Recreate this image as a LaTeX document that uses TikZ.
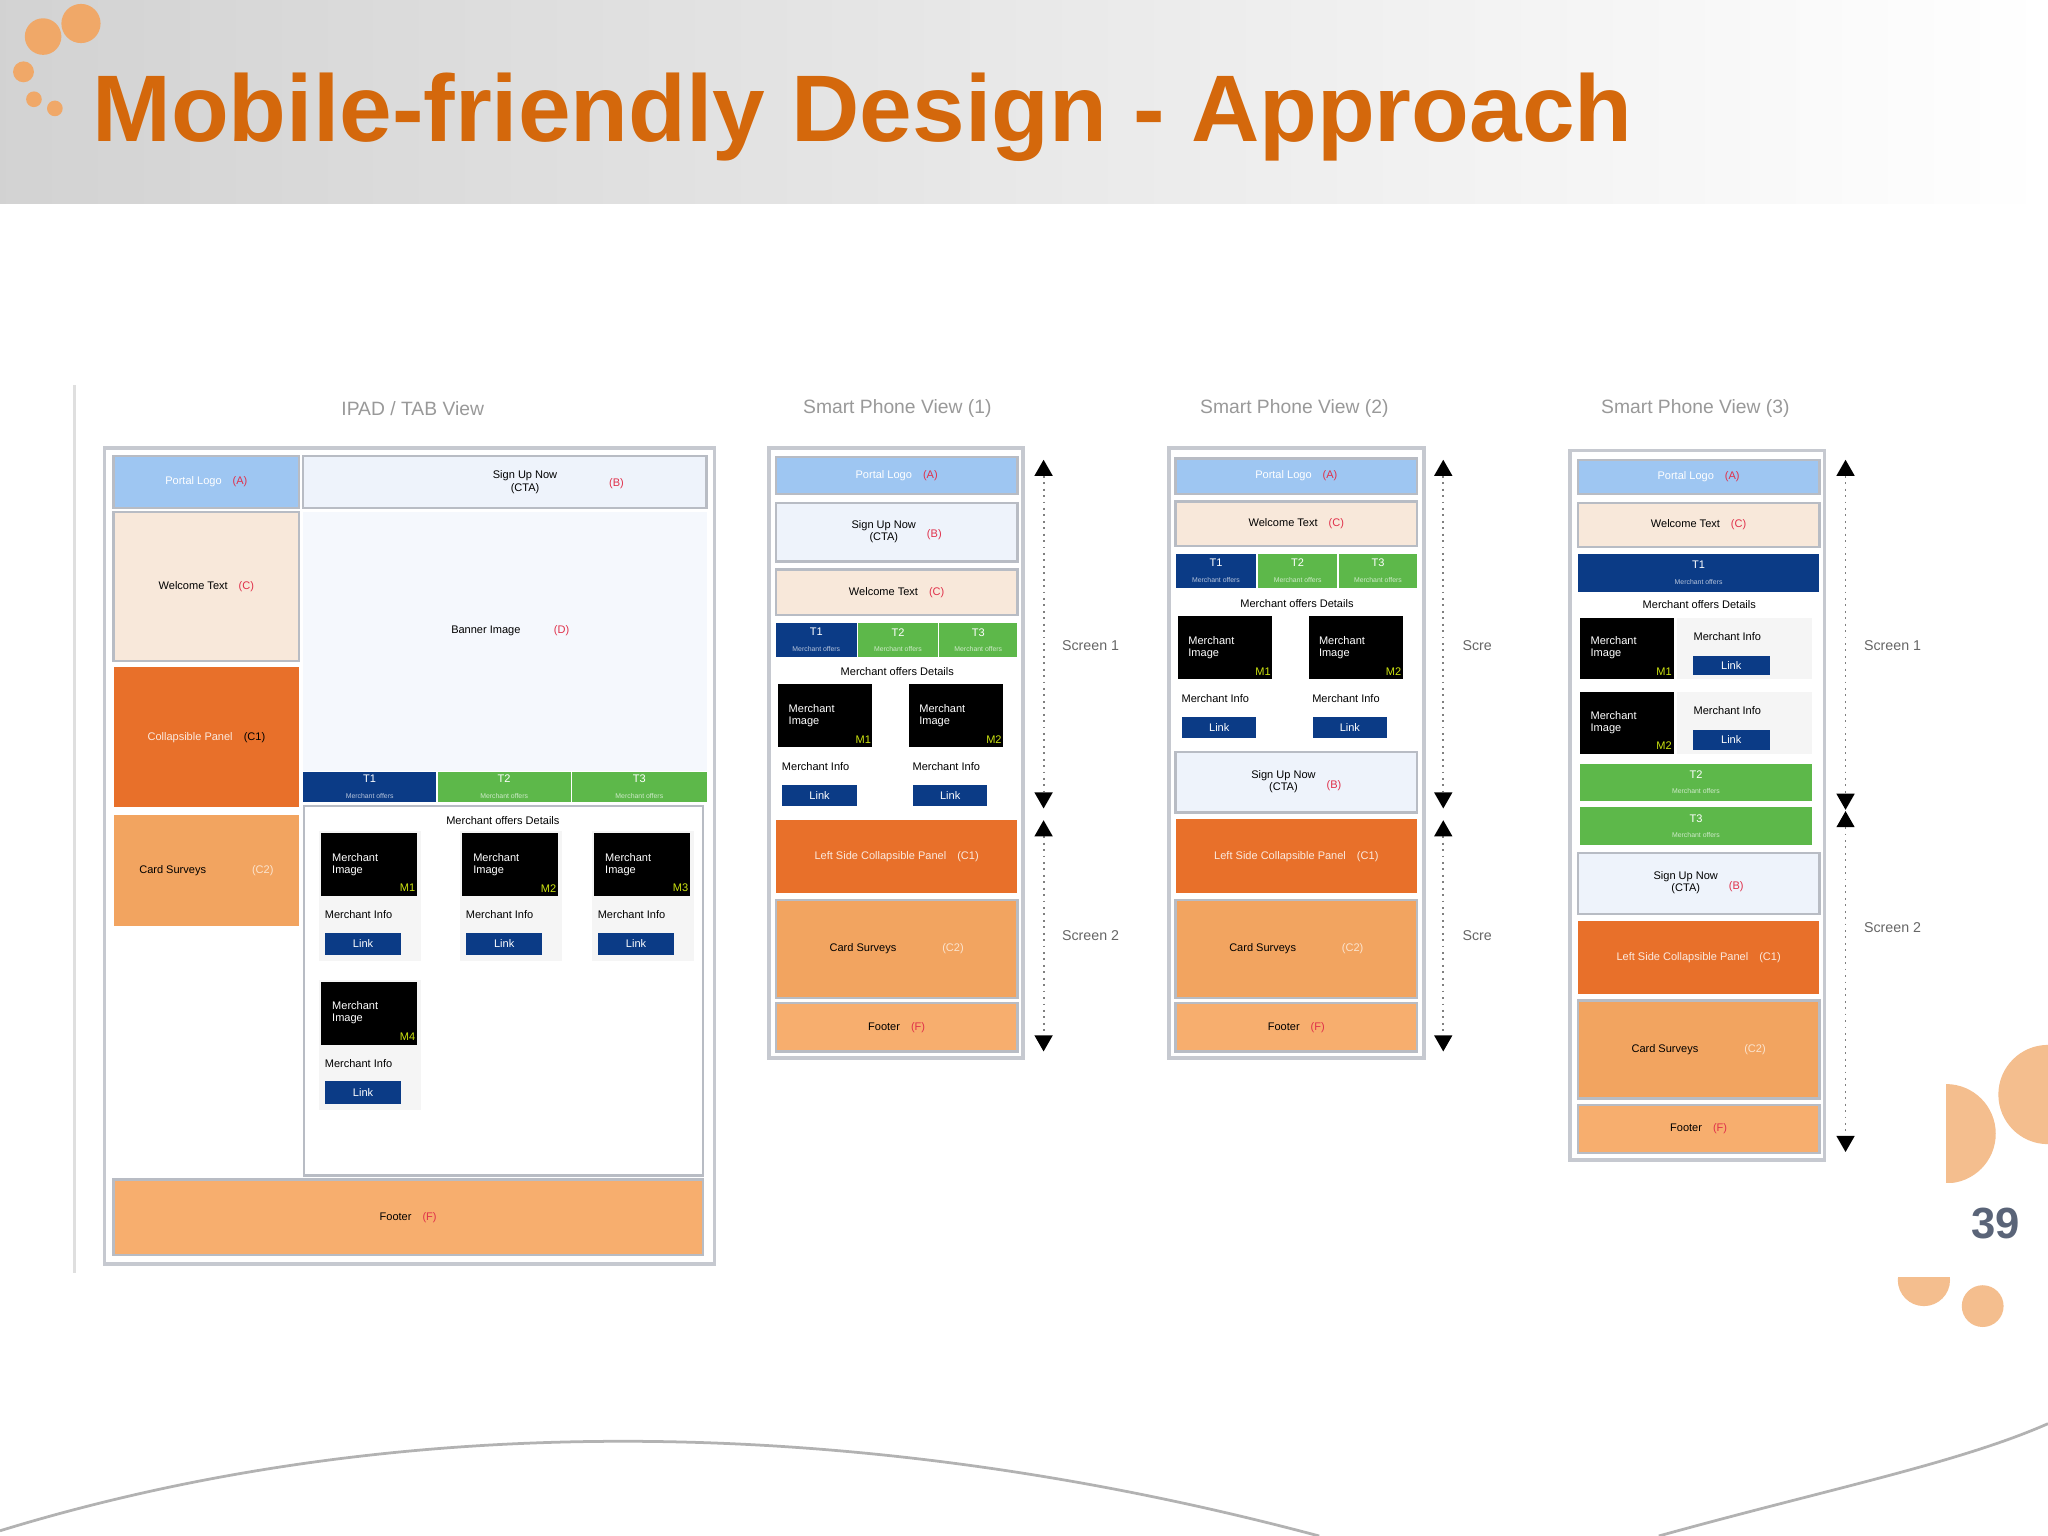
\documentclass[tikz,border=0pt]{standalone}
\usepackage{fontspec}
\setmainfont{Liberation Sans}
\usetikzlibrary{arrows.meta}
\definecolor{ttl}{HTML}{D4680C}
\definecolor{lb}{HTML}{9EC6F2}
\definecolor{su}{HTML}{EEF3FB}
\definecolor{wt}{HTML}{F8E8DA}
\definecolor{cp}{HTML}{E8702A}
\definecolor{cs}{HTML}{F2A460}
\definecolor{ft}{HTML}{F7AE6E}
\definecolor{nv}{HTML}{0B3B86}
\definecolor{gr}{HTML}{5DB84A}
\definecolor{cr}{HTML}{E0304A}
\definecolor{dots}{HTML}{F0A868}
\definecolor{pg}{HTML}{5A6478}
\definecolor{bdr}{HTML}{B8BCC4}
\newcommand\bx[7]{\path[#6] (#2,#3) rectangle (#4,#5); \node[txt] (#1) at ({(#2+#4)/2},{(#3+#5)/2}) {#7};}
\newcommand\code[1]{\quad{\color{cr}#1}}
\newcommand\tb[2]{\color{white}#1\\[0.5pt]\fontsize{1.5}{1.8}\selectfont\color{white!70!#2}Merchant offers}
\newcommand\sgn{\begin{tabular}{@{}c@{}}Sign Up Now\\(CTA)\end{tabular}\quad{\color{cr}(B)}}
\newcommand\mim{\color{white}\begin{tabular}{@{}l@{}}Merchant\\Image\end{tabular}\hspace{6pt}\null}
\begin{document}
\begin{tikzpicture}[x=0.01cm,y=-0.01cm,
  txt/.style={font=\fontsize{2.4}{2.9}\selectfont,align=center,inner sep=0pt},
  bxs/.style={draw=bdr,line width=0.5pt},
  frame/.style={draw=bdr!80,line width=0.8pt,fill=white},
  head/.style={font=\fontsize{4.2}{5}\selectfont,text=gray!80},
  scr/.style={font=\fontsize{3.1}{4}\selectfont,text=gray!80!black},
  arr/.style={densely dotted,gray,line width=0.4pt,{Triangle[width=4pt,length=3.5pt,fill=black,line width=0pt]}-{Triangle[width=4pt,length=3.5pt,fill=black,line width=0pt]}}]
\def\arraystretch{0.9}
\useasboundingbox (0,0) rectangle (1568,1176);
\fill[white] (0,0) rectangle (1568,1176);
\shade[left color=gray!35,right color=white] (0,0) rectangle (1568,156);
\foreach \x/\y/\r in {33/28/14,62/18/15,18/55/8,26/76/6,42/83/6}{\fill[dots] (\x,\y) circle (\r);}
\node[anchor=base west,font=\bfseries\fontsize{20.6}{24}\selectfont,text=ttl,inner sep=0pt] (title) at (70,108) {Mobile-friendly Design - Approach};
\begin{scope}
\clip (1490,780) rectangle (1568,905);
\fill[dots!75] (1490,868) circle (38);
\fill[dots!75] (1568,838) circle (38);
\end{scope}
\begin{scope}
\clip (1440,978) rectangle (1568,1030);
\fill[dots!75] (1473,980) circle (20);
\end{scope}
\fill[dots!75] (1518,1000) circle (16);
\node[font=\bfseries\fontsize{9.5}{11}\selectfont,text=pg] (pgn) at (1528,937) {39};
\draw[gray!60,line width=0.6pt] (0,1172) .. controls (300,1080) and (650,1080) .. (1010,1176);
\draw[gray!60,line width=0.6pt] (1270,1176) .. controls (1400,1140) and (1500,1120) .. (1568,1090);
\draw[gray!25,line width=0.5pt] (57,295) -- (57,975);
% ===== iPad =====
\node[head] (h1) at (316,313) {IPAD / TAB View};
\path[frame] (80,343) rectangle (547,968);
\bx{a1}{87}{349}{229}{389}{bxs,fill=lb}{{\color{white}Portal Logo}\code{(A)}}
\bx{b1}{232}{349}{541}{389}{bxs,fill=su}{}
\node[txt] (b1t) at (402,369) {Sign Up Now\\(CTA)};
\node[txt,text=cr] (b1c) at (472,370) {(B)};
\bx{c1}{87}{392}{229}{506}{bxs,fill=wt}{Welcome Text\code{(C)}}
\bx{d1}{232}{392}{541}{590}{fill=su!60}{}
\node[txt] (d1t) at (372,483) {Banner Image};
\node[txt,text=cr] (d1c) at (430,483) {(D)};
\bx{e1}{87}{511}{229}{618}{fill=cp}{{\color{white!85!cp}Collapsible Panel}\quad(C1)}
\bx{f1}{87}{624}{229}{709}{fill=cs}{Card Surveys\hspace{10pt}{\color{white!70!cs}(C2)}}
\bx{t11}{232}{591}{334}{614}{fill=nv}{\tb{T1}{nv}}
\bx{t12}{335}{591}{437}{614}{fill=gr}{\tb{T2}{gr}}
\bx{t13}{438}{591}{541}{614}{fill=gr}{\tb{T3}{gr}}
\bx{p1}{233}{617}{538}{900}{bxs,fill=white}{}
\node[txt] (md1) at (385,628) {Merchant offers Details};
\foreach \i/\x/\y/\m in {1/246/638/M1,2/354/638/M2,3/455/638/M3,4/246/752/M4}{
  \fill[gray!8] (\x-2,\y-2) rectangle (\x+76,\y+98);
  \bx{mi\i}{\x}{\y}{\x+73}{\y+48}{fill=black}{\mim}
  \node[txt,text=yellow!80!green] (mm\i) at (\x+66,\y+42) {\m};
  \node[txt,anchor=west] (mf\i) at (\x+2,\y+62) {Merchant Info};
  \bx{ml\i}{\x+3}{\y+76}{\x+61}{\y+93}{fill=nv}{\color{white}Link}
}
\bx{g1}{87}{903}{538}{961}{bxs,fill=ft}{Footer\code{(F)}}
% ===== Phone 1 =====
\node[head] (h2) at (687,313) {Smart Phone View (1)};
\path[frame] (589,343) rectangle (783,810);
\bx{a2}{594}{350}{779}{378}{bxs,fill=lb}{{\color{white}Portal Logo}\code{(A)}}
\bx{b2}{594}{385}{779}{430}{bxs,fill=su}{\sgn}
\bx{c2}{594}{436}{779}{471}{bxs,fill=wt}{Welcome Text\code{(C)}}
\bx{t21}{594}{477}{656}{503}{fill=nv}{\tb{T1}{nv}}
\bx{t22}{657}{477}{718}{503}{fill=gr}{\tb{T2}{gr}}
\bx{t23}{719}{477}{779}{503}{fill=gr}{\tb{T3}{gr}}
\node[txt] (md2) at (687,514) {Merchant offers Details};
\foreach \i/\x/\m in {1/596/M1,2/696/M2}{
  \bx{pi\i}{\x}{524}{\x+72}{572}{fill=black}{\mim}
  \node[txt,text=yellow!80!green] (pm\i) at (\x+65,566) {\m};
  \node[txt,anchor=west] (pf\i) at (\x+2,587) {Merchant Info};
  \bx{pl\i}{\x+3}{601}{\x+60}{617}{fill=nv}{\color{white}Link}
}
\bx{e2}{594}{628}{779}{684}{fill=cp}{{\color{white!85!cp}Left Side Collapsible Panel}\quad{\color{white!85!cp}(C1)}}
\bx{f2}{594}{689}{779}{764}{bxs,fill=cs}{Card Surveys\hspace{10pt}{\color{white!70!cs}(C2)}}
\bx{g2}{594}{768}{779}{805}{bxs,fill=ft}{Footer\code{(F)}}
\coordinate (u21) at (799,352); \coordinate (d21) at (799,619);
\coordinate (u22) at (799,628); \coordinate (d22) at (799,805);
\draw[arr] (u21) -- (d21); \draw[arr] (u22) -- (d22);
\node[scr] (s21) at (835,494) {Screen 1};
\node[scr] (s22) at (835,716) {Screen 2};
% ===== Phone 2 =====
\node[head] (h3) at (991,313) {Smart Phone View (2)};
\path[frame] (895,343) rectangle (1090,810);
\bx{a3}{900}{351}{1085}{378}{bxs,fill=lb}{{\color{white}Portal Logo}\code{(A)}}
\bx{c3}{900}{384}{1085}{418}{bxs,fill=wt}{Welcome Text\code{(C)}}
\bx{t31}{900}{424}{962}{450}{fill=nv}{\tb{T1}{nv}}
\bx{t32}{963}{424}{1024}{450}{fill=gr}{\tb{T2}{gr}}
\bx{t33}{1025}{424}{1085}{450}{fill=gr}{\tb{T3}{gr}}
\node[txt] (md3) at (993,462) {Merchant offers Details};
\foreach \i/\x/\m in {1/902/M1,2/1002/M2}{
  \bx{qi\i}{\x}{472}{\x+72}{520}{fill=black}{\mim}
  \node[txt,text=yellow!80!green] (qm\i) at (\x+65,514) {\m};
  \node[txt,anchor=west] (qf\i) at (\x+2,535) {Merchant Info};
  \bx{ql\i}{\x+3}{549}{\x+60}{565}{fill=nv}{\color{white}Link}
}
\bx{b3}{900}{576}{1085}{622}{bxs,fill=su}{\sgn}
\bx{e3}{900}{627}{1085}{684}{fill=cp}{{\color{white!85!cp}Left Side Collapsible Panel}\quad{\color{white!85!cp}(C1)}}
\bx{f3}{900}{689}{1085}{764}{bxs,fill=cs}{Card Surveys\hspace{10pt}{\color{white!70!cs}(C2)}}
\bx{g3}{900}{768}{1085}{805}{bxs,fill=ft}{Footer\code{(F)}}
\coordinate (u31) at (1105,352); \coordinate (d31) at (1105,619);
\coordinate (u32) at (1105,628); \coordinate (d32) at (1105,805);
\draw[arr] (u31) -- (d31); \draw[arr] (u32) -- (d32);
\node[scr] (s31) at (1131,494) {Scre};
\node[scr] (s32) at (1131,716) {Scre};
% ===== Phone 3 =====
\node[head] (h4) at (1298,313) {Smart Phone View (3)};
\path[frame] (1202,345) rectangle (1397,888);
\bx{a4}{1208}{352}{1393}{378}{bxs,fill=lb}{{\color{white}Portal Logo}\code{(A)}}
\bx{c4}{1208}{385}{1393}{419}{bxs,fill=wt}{Welcome Text\code{(C)}}
\bx{t41}{1208}{424}{1393}{453}{fill=nv}{\tb{T1}{nv}}
\node[txt] (md4) at (1301,463) {Merchant offers Details};
\foreach \i/\y/\m in {1/473/M1,2/530/M2}{
  \fill[gray!8] (1284,\y) rectangle (1387,\y+47);
  \bx{ri\i}{1210}{\y}{1282}{\y+47}{fill=black}{\mim}
  \node[txt,text=yellow!80!green] (rm\i) at (1274,\y+41) {\m};
  \node[txt,anchor=west] (rf\i) at (1296,\y+14) {Merchant Info};
  \bx{rl\i}{1296}{\y+29}{1355}{\y+44}{fill=nv}{\color{white}Link}
}
\bx{t42}{1210}{585}{1387}{613}{fill=gr}{\tb{T2}{gr}}
\bx{t43}{1210}{618}{1387}{647}{fill=gr}{\tb{T3}{gr}}
\bx{b4}{1208}{653}{1393}{700}{bxs,fill=su}{\sgn}
\bx{e4}{1208}{705}{1393}{761}{fill=cp}{{\color{white!85!cp}Left Side Collapsible Panel}\quad{\color{white!85!cp}(C1)}}
\bx{f4}{1208}{766}{1393}{841}{bxs,fill=cs}{Card Surveys\hspace{10pt}{\color{white!70!cs}(C2)}}
\bx{g4}{1208}{846}{1393}{883}{bxs,fill=ft}{Footer\code{(F)}}
\coordinate (u41) at (1413,352); \coordinate (d41) at (1413,620);
\coordinate (u42) at (1413,621); \coordinate (d42) at (1413,882);
\draw[arr] (u41) -- (d41); \draw[arr] (u42) -- (d42);
\node[scr] (s41) at (1449,494) {Screen 1};
\node[scr] (s42) at (1449,710) {Screen 2};
\end{tikzpicture}
\end{document}
